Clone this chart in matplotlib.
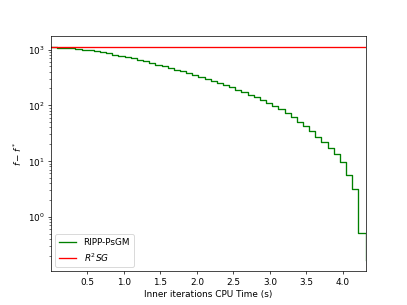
import matplotlib
matplotlib.use("Agg")
import matplotlib.pyplot as plt

# ======================
# DATA
# ======================
time_ripp = [0.000, 0.084, 0.168, 0.253, 0.337, 0.421, 0.505, 0.589, 0.674, 0.758,
             0.842, 0.926, 1.010, 1.095, 1.179, 1.263, 1.347, 1.431, 1.516, 1.600,
             1.684, 1.768, 1.852, 1.937, 2.021, 2.105, 2.189, 2.273, 2.358, 2.442,
             2.526, 2.610, 2.694, 2.779, 2.863, 2.947, 3.031, 3.115, 3.200, 3.284,
             3.368, 3.452, 3.536, 3.621, 3.705, 3.789, 3.873, 3.957, 4.041, 4.126,
             4.210, 4.320]
gap_ripp = [1096, 1086, 1074, 1059, 1033, 1000, 977, 944, 912, 871,
            813, 776, 735, 692, 646, 617, 575, 537, 507, 468,
            437, 407, 376, 351, 324, 299, 275, 251, 229, 209,
            191, 172, 155, 138, 123, 110, 98, 85, 72, 62,
            51, 42, 34, 27, 22, 17.4, 13.2, 9.5, 5.6, 3.2,
            0.51, 0.166]

time_r2sg = [0.0, 4.32]
gap_r2sg = [1100, 1100]

# ======================
# PLOT
# ======================
fig, ax = plt.subplots(figsize=(6.4, 4.8), dpi=407 / 6.4)
ax.plot(time_ripp, gap_ripp, color="green", drawstyle="steps-post", label="RIPP-PsGM")
ax.plot(time_r2sg, gap_r2sg, color="red", label="$R^2SG$")
ax.set_yscale("log")
ax.set_xlim(0, 4.32)
ax.set_ylim(0.105, 1720)
ax.set_xticks([0.5, 1.0, 1.5, 2.0, 2.5, 3.0, 3.5, 4.0])
ax.set_xlabel("Inner iterations CPU Time (s)")
ax.set_ylabel("$f - f^*$")
ax.legend(loc="lower left")
fig.savefig("out.png")
